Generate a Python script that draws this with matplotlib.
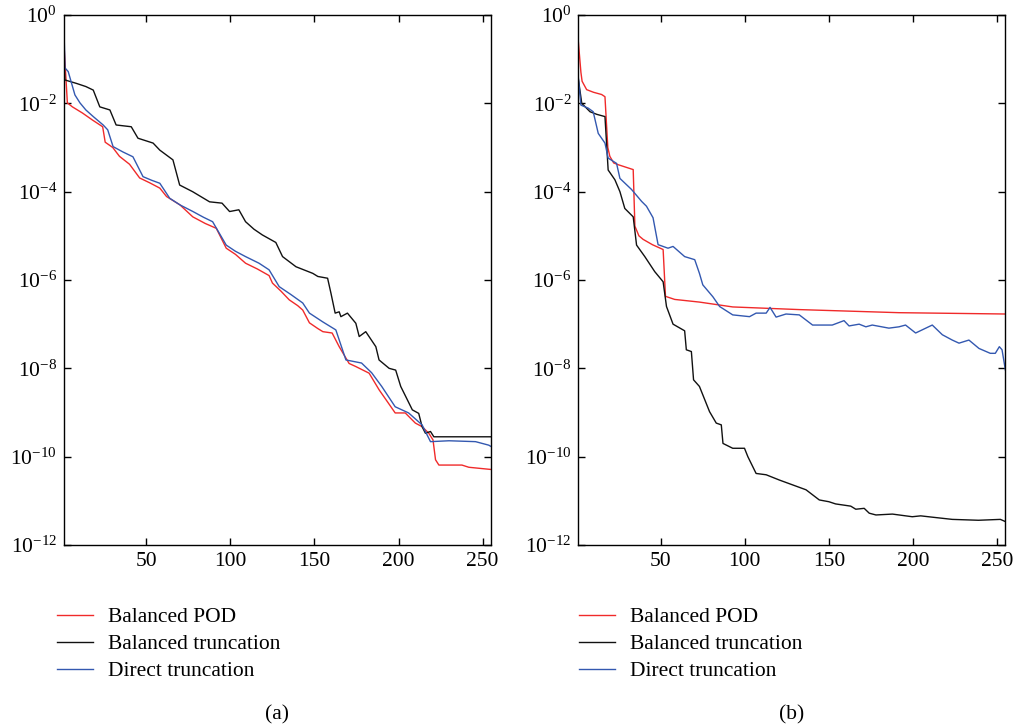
import numpy as np
import matplotlib
matplotlib.use("Agg")
import matplotlib.pyplot as plt

# panel (a): x positions and log10 of the values
red_a_x = [1, 3, 6, 12, 18, 24, 25.5, 30, 34, 40, 46, 52, 58, 62, 70, 77.6, 85, 91.6,
           97.5, 103, 109, 116, 123, 125, 130, 135, 140, 143, 147, 152, 155, 160.5, 164.7,
           170.6, 174.6, 182.5, 188.5, 194, 198, 204, 210, 214, 218, 220.5, 222, 224,
           237.7, 241.8, 255]
red_a_log = [-0.68, -1.99, -2.08, -2.22, -2.38, -2.53, -2.88, -3.0, -3.2, -3.38, -3.69,
             -3.8, -3.92, -4.11, -4.3, -4.57, -4.72, -4.83, -5.28, -5.42, -5.62, -5.75,
             -5.9, -6.07, -6.25, -6.45, -6.58, -6.68, -6.97, -7.1, -7.17, -7.2, -7.51,
             -7.89, -7.96, -8.11, -8.49, -8.79, -9.01, -9.01, -9.24, -9.32, -9.47, -9.62,
             -10.07, -10.19, -10.19, -10.24, -10.29]

black_a_x = [1, 1.5, 8.5, 14, 18.4, 22.3, 28.3, 32, 41, 45, 54, 58, 65.8, 69.8, 77.5,
             87.6, 95, 99.5, 105, 109, 114, 119, 127, 131, 139, 149, 152, 157.8, 159.8,
             162.3, 164.7, 165.7, 169.6, 174.6, 176.6, 180.5, 186.5, 188.4, 194.4, 198.3,
             201.3, 204.3, 208.2, 212, 214, 216, 219, 221, 255]
black_a_log = [-1.06, -1.47, -1.55, -1.62, -1.7, -2.08, -2.15, -2.49, -2.53, -2.79, -2.9,
               -3.06, -3.28, -3.85, -4.0, -4.23, -4.26, -4.45, -4.41, -4.68, -4.85, -4.98,
               -5.15, -5.47, -5.7, -5.85, -5.92, -5.96, -6.3, -6.75, -6.72, -6.83, -6.75,
               -6.98, -7.28, -7.17, -7.51, -7.81, -8.0, -8.04, -8.41, -8.64, -8.94, -9.02,
               -9.32, -9.47, -9.43, -9.55, -9.55]

blue_a_x = [1, 1.6, 3.5, 7.5, 10.5, 14, 18.4, 24.3, 27, 30.2, 36, 42, 48, 53, 58, 63.9,
            70, 77.7, 84, 89.4, 97.5, 103, 109, 117, 123, 129, 136, 143, 147, 155, 162.7,
            168.7, 178, 184, 190, 198, 206, 214, 219, 230, 245.8, 253.7, 255]
blue_a_log = [-0.36, -1.2, -1.28, -1.81, -1.99, -2.15, -2.3, -2.49, -2.6, -2.98, -3.1,
              -3.21, -3.66, -3.74, -3.81, -4.15, -4.3, -4.45, -4.58, -4.68, -5.21, -5.35,
              -5.47, -5.62, -5.77, -6.15, -6.33, -6.52, -6.75, -6.95, -7.13, -7.81, -7.88,
              -8.1, -8.41, -8.87, -9.01, -9.28, -9.66, -9.64, -9.66, -9.74, -9.77]

# panel (b)
red_b_x = [1, 2.5, 3.2, 5.9, 10, 14.8, 16.8, 18.5, 19.7, 22, 24.7, 33.6, 34.6, 37, 39.5,
           45, 51.4, 52.8, 58.3, 73, 92.8, 132.4, 191.7, 255]
red_b_log = [-0.62, -1.3, -1.5, -1.69, -1.75, -1.8, -1.85, -3.0, -3.2, -3.35, -3.39, -3.5,
             -4.78, -5.0, -5.08, -5.2, -5.31, -6.37, -6.44, -6.5, -6.61, -6.67, -6.74, -6.77]

black_b_x = [1, 3, 7.9, 12, 16.8, 18.7, 22.7, 25.7, 28.6, 33.6, 35.6, 40.5, 46.4, 51.4,
             53.4, 57.3, 64.2, 65.2, 68.2, 69.5, 73, 79, 83, 86, 87, 92.8, 99.8, 101.8,
             106.7, 112.7, 120.6, 128.5, 136.4, 144.3, 150, 154, 163, 166, 171, 174, 178,
             187.8, 199.6, 204.6, 211.5, 223.4, 239, 252, 255]
black_b_log = [-1.46, -2.0, -2.19, -2.25, -2.3, -3.51, -3.73, -4.0, -4.38, -4.57, -5.21,
               -5.47, -5.81, -6.04, -6.6, -7.0, -7.15, -7.58, -7.62, -8.26, -8.41, -8.98,
               -9.24, -9.28, -9.7, -9.81, -9.81, -10.0, -10.38, -10.41, -10.53, -10.64,
               -10.75, -10.98, -11.02, -11.07, -11.12, -11.19, -11.17, -11.28, -11.32,
               -11.3, -11.36, -11.34, -11.37, -11.42, -11.44, -11.42, -11.47]

blue_b_x = [1, 2.5, 6.9, 9.8, 12.8, 16.8, 18.7, 23.7, 25.7, 32.6, 38.6, 41.5, 45.4, 48.4,
            54.3, 57.3, 64.2, 70.2, 73, 75, 81, 85, 92.8, 102.8, 106.7, 112.7, 115, 118.6,
            124.5, 132.4, 140.3, 152, 159, 162, 168, 172, 175.8, 185.7, 191.7, 195.6,
            201.6, 211.5, 217.5, 223.4, 227.4, 233.3, 239.3, 246, 249, 251.4, 253, 255]
blue_b_log = [-1.43, -2.04, -2.11, -2.19, -2.68, -2.9, -3.24, -3.36, -3.7, -3.95, -4.22,
              -4.33, -4.59, -5.2, -5.28, -5.24, -5.47, -5.54, -5.85, -6.11, -6.38, -6.6,
              -6.79, -6.83, -6.75, -6.75, -6.62, -6.84, -6.77, -6.79, -7.02, -7.02, -6.92,
              -7.04, -7.0, -7.06, -7.02, -7.09, -7.06, -7.02, -7.2, -7.02, -7.24, -7.36,
              -7.43, -7.36, -7.55, -7.66, -7.66, -7.51, -7.58, -8.04]

labels = ["Balanced POD", "Balanced truncation", "Direct truncation"]
colors = ["#f02a2a", "#111111", "#3358b0"]
x_ticks = [50, 100, 150, 200, 250]
y_ticks = [1e-12, 1e-10, 1e-8, 1e-6, 1e-4, 1e-2, 1e0]

plt.rcParams["font.family"] = ["Liberation Serif", "DejaVu Serif"]
plt.rcParams["mathtext.fontset"] = "custom"
plt.rcParams["mathtext.rm"] = "Liberation Serif"
plt.rcParams["mathtext.it"] = "Liberation Serif:italic"
FS = 15.5
plt.rcParams["font.size"] = FS

W, H = 1013, 727
fig = plt.figure(figsize=(W / 100, H / 100), dpi=100)


def draw_panel(left, series, tag, legend_x):
    ax = fig.add_axes([left / W, 1 - 545 / H, 427 / W, 530 / H])
    for (xs, ls), lab, c in zip(series, labels, colors):
        ax.semilogy(xs, 10.0 ** np.array(ls), color=c, lw=1.0, label=lab)
    ax.set_xlim(1, 255)
    ax.set_ylim(1e-12, 1e0)
    ax.set_xticks(x_ticks)
    ax.set_yticks(y_ticks)
    ax.minorticks_off()
    ax.tick_params(direction="in", top=True, right=True, length=5, width=1.0,
                   labelsize=FS, pad=5)
    for s in ax.spines.values():
        s.set_linewidth(1.0)
    ax.legend(loc="upper left", bbox_to_anchor=(legend_x / W, 1 - 607 / H),
              bbox_transform=fig.transFigure, frameon=False, fontsize=FS,
              handlelength=1.65, handletextpad=0.7, labelspacing=0.33,
              borderpad=0, borderaxespad=0)
    fig.text((left + 213) / W, 1 - 715 / H, tag, ha="center", va="center", fontsize=FS)
    return ax


draw_panel(64, [(red_a_x, red_a_log), (black_a_x, black_a_log), (blue_a_x, blue_a_log)],
           "(a)", 57)
draw_panel(578.4, [(red_b_x, red_b_log), (black_b_x, black_b_log), (blue_b_x, blue_b_log)],
           "(b)", 579)

fig.savefig("out.png", dpi=100)
